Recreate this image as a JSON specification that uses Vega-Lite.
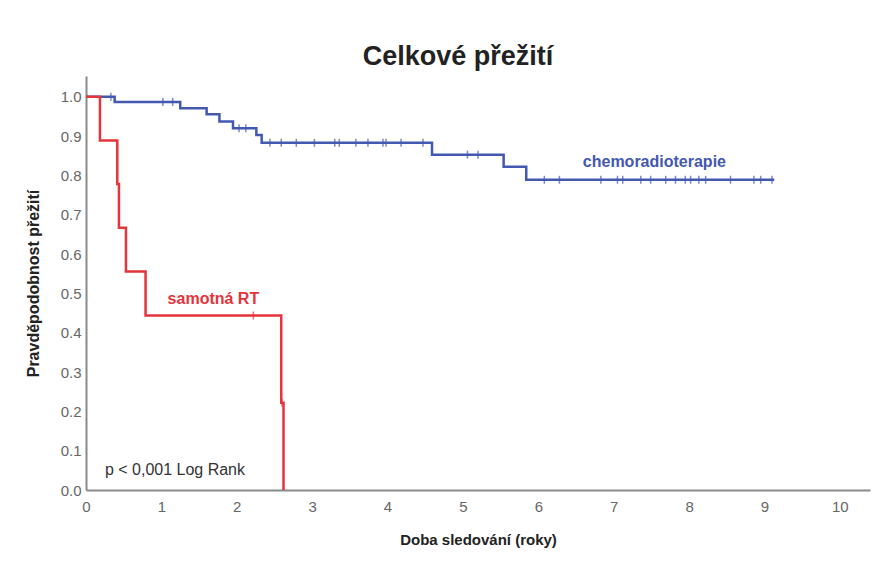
{
  "$schema": "https://vega.github.io/schema/vega-lite/v6.json",
  "width": 784,
  "height": 414,
  "autosize": "none",
  "padding": {"left": 86, "top": 76, "right": 8, "bottom": 77},
  "background": "white",
  "config": {
    "view": {"stroke": null},
    "font": "Liberation Sans",
    "axis": {"grid": false, "ticks": false, "domainColor": "#8a8a8a", "domainWidth": 2, "labelColor": "#666666", "labelFontSize": 15, "labelFont": "Liberation Sans", "labelFlush": false, "titleFont": "Liberation Sans", "titleFontWeight": "bold", "titleColor": "#222222"}
  },
  "title": {"text": "Celkové přežití", "fontSize": 27, "fontWeight": "bold", "font": "Liberation Sans", "color": "#222222", "anchor": "middle", "dx": -20, "offset": 5},
  "datasets": {
    "curve": [
      {"t": 0, "s": 1.0, "group": "chemoradioterapie"},
      {"t": 0.38, "s": 0.987, "group": "chemoradioterapie"},
      {"t": 1.25, "s": 0.971, "group": "chemoradioterapie"},
      {"t": 1.6, "s": 0.956, "group": "chemoradioterapie"},
      {"t": 1.77, "s": 0.937, "group": "chemoradioterapie"},
      {"t": 1.95, "s": 0.92, "group": "chemoradioterapie"},
      {"t": 2.26, "s": 0.903, "group": "chemoradioterapie"},
      {"t": 2.33, "s": 0.883, "group": "chemoradioterapie"},
      {"t": 4.59, "s": 0.853, "group": "chemoradioterapie"},
      {"t": 5.54, "s": 0.822, "group": "chemoradioterapie"},
      {"t": 5.84, "s": 0.789, "group": "chemoradioterapie"},
      {"t": 9.13, "s": 0.789, "group": "chemoradioterapie"},
      {"t": 0, "s": 1.0, "group": "samotná RT"},
      {"t": 0.185, "s": 0.889, "group": "samotná RT"},
      {"t": 0.415, "s": 0.778, "group": "samotná RT"},
      {"t": 0.437, "s": 0.667, "group": "samotná RT"},
      {"t": 0.53, "s": 0.556, "group": "samotná RT"},
      {"t": 0.79, "s": 0.444, "group": "samotná RT"},
      {"t": 2.59, "s": 0.222, "group": "samotná RT"},
      {"t": 2.62, "s": 0.0, "group": "samotná RT"}
    ],
    "censor": [
      {"t": 0.33, "s": 1.0, "group": "chemoradioterapie"},
      {"t": 1.02, "s": 0.987, "group": "chemoradioterapie"},
      {"t": 1.15, "s": 0.987, "group": "chemoradioterapie"},
      {"t": 2.03, "s": 0.92, "group": "chemoradioterapie"},
      {"t": 2.12, "s": 0.92, "group": "chemoradioterapie"},
      {"t": 2.44, "s": 0.883, "group": "chemoradioterapie"},
      {"t": 2.59, "s": 0.883, "group": "chemoradioterapie"},
      {"t": 2.79, "s": 0.883, "group": "chemoradioterapie"},
      {"t": 3.03, "s": 0.883, "group": "chemoradioterapie"},
      {"t": 3.3, "s": 0.883, "group": "chemoradioterapie"},
      {"t": 3.36, "s": 0.883, "group": "chemoradioterapie"},
      {"t": 3.58, "s": 0.883, "group": "chemoradioterapie"},
      {"t": 3.74, "s": 0.883, "group": "chemoradioterapie"},
      {"t": 3.94, "s": 0.883, "group": "chemoradioterapie"},
      {"t": 3.98, "s": 0.883, "group": "chemoradioterapie"},
      {"t": 4.18, "s": 0.883, "group": "chemoradioterapie"},
      {"t": 4.47, "s": 0.883, "group": "chemoradioterapie"},
      {"t": 5.06, "s": 0.853, "group": "chemoradioterapie"},
      {"t": 5.2, "s": 0.853, "group": "chemoradioterapie"},
      {"t": 6.08, "s": 0.789, "group": "chemoradioterapie"},
      {"t": 6.28, "s": 0.789, "group": "chemoradioterapie"},
      {"t": 6.83, "s": 0.789, "group": "chemoradioterapie"},
      {"t": 7.05, "s": 0.789, "group": "chemoradioterapie"},
      {"t": 7.12, "s": 0.789, "group": "chemoradioterapie"},
      {"t": 7.36, "s": 0.789, "group": "chemoradioterapie"},
      {"t": 7.49, "s": 0.789, "group": "chemoradioterapie"},
      {"t": 7.69, "s": 0.789, "group": "chemoradioterapie"},
      {"t": 7.82, "s": 0.789, "group": "chemoradioterapie"},
      {"t": 7.95, "s": 0.789, "group": "chemoradioterapie"},
      {"t": 8.02, "s": 0.789, "group": "chemoradioterapie"},
      {"t": 8.13, "s": 0.789, "group": "chemoradioterapie"},
      {"t": 8.22, "s": 0.789, "group": "chemoradioterapie"},
      {"t": 8.55, "s": 0.789, "group": "chemoradioterapie"},
      {"t": 8.86, "s": 0.789, "group": "chemoradioterapie"},
      {"t": 8.95, "s": 0.789, "group": "chemoradioterapie"},
      {"t": 9.1, "s": 0.789, "group": "chemoradioterapie"},
      {"t": 2.22, "s": 0.444, "group": "samotná RT"},
      {"t": 2.6, "s": 0.222, "group": "samotná RT"}
    ],
    "labels": [
      {"t": 7.54, "s": 0.835, "text": "chemoradioterapie", "group": "chemoradioterapie"},
      {"t": 1.69, "s": 0.485, "text": "samotná RT", "group": "samotná RT"}
    ],
    "note": [
      {"t": 1.18, "s": 0.051, "text": "p < 0,001 Log Rank"}
    ]
  },
  "layer": [
    {
      "data": {"name": "curve"},
      "mark": {"type": "line", "interpolate": "step-after", "strokeWidth": 2.5},
      "encoding": {
        "x": {"field": "t", "type": "quantitative", "scale": {"domain": [0, 10.4], "nice": false}, "axis": {"title": "Doba sledování (roky)", "titleFontSize": 15, "values": [0,1,2,3,4,5,6,7,8,9,10], "format": "d", "labelPadding": 9, "titlePadding": 18}},
        "y": {"field": "s", "type": "quantitative", "scale": {"domain": [0, 1.053], "nice": false}, "axis": {"title": "Pravděpodobnost přežití", "titleFontSize": 16, "values": [0,0.1,0.2,0.3,0.4,0.5,0.6,0.7,0.8,0.9,1.0], "format": ".1f", "labelPadding": 5, "titlePadding": 19}},
        "color": {"field": "group", "type": "nominal", "scale": {"domain": ["chemoradioterapie", "samotná RT"], "range": ["#4358b0", "#e5343b"]}, "legend": null},
        "order": {"field": "t", "type": "quantitative"}
      }
    },
    {
      "data": {"name": "censor"},
      "mark": {"type": "tick", "orient": "vertical", "size": 8, "thickness": 1.5},
      "encoding": {
        "x": {"field": "t", "type": "quantitative"},
        "y": {"field": "s", "type": "quantitative"},
        "color": {"field": "group", "type": "nominal", "legend": null}
      }
    },
    {
      "data": {"name": "labels"},
      "mark": {"type": "text", "fontSize": 16, "fontWeight": "bold", "align": "center", "baseline": "middle"},
      "encoding": {
        "x": {"field": "t", "type": "quantitative"},
        "y": {"field": "s", "type": "quantitative"},
        "text": {"field": "text"},
        "color": {"field": "group", "type": "nominal", "legend": null}
      }
    },
    {
      "data": {"name": "note"},
      "mark": {"type": "text", "fontSize": 16, "align": "center", "baseline": "middle", "color": "#333333"},
      "encoding": {
        "x": {"field": "t", "type": "quantitative"},
        "y": {"field": "s", "type": "quantitative"},
        "text": {"field": "text"}
      }
    }
  ]
}
